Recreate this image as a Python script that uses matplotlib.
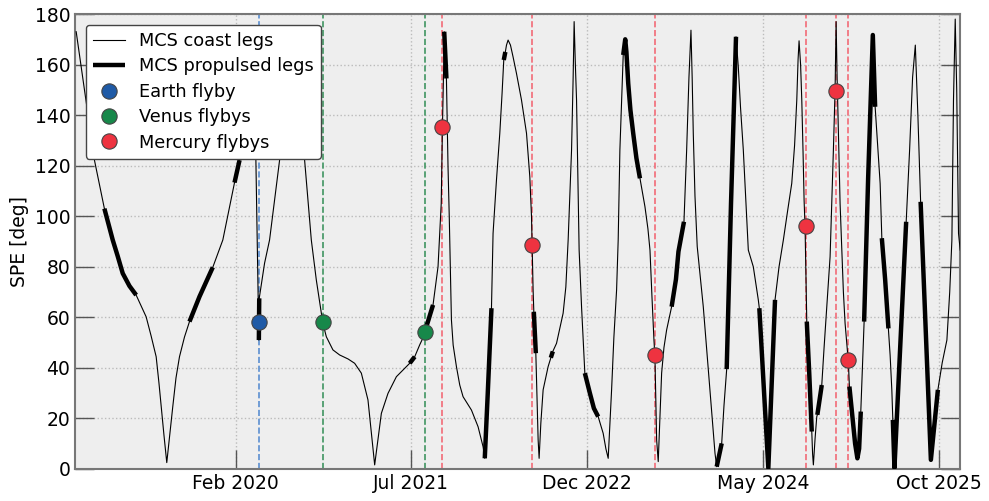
import numpy as np
import pandas as pd
import matplotlib
matplotlib.use("Agg")
import matplotlib.pyplot as plt
import matplotlib.dates as mdates

# mission days since launch and Sun-Probe-Earth angle [deg]
LAUNCH = pd.Timestamp("2018-10-20")

days = [0, 54, 83, 107.5, 121.9, 136.9, 156.7, 176.4, 205.8, 220.5, 235.3, 243.5,
        250.0, 258.2, 266.5, 284.2, 293.6, 303.9, 318.6, 333.3, 362.8, 401.9,
        431.4, 448.2, 465.8, 480.6, 497, 513, 527.7, 537.4,
        538.5, 554.2, 568.9, 598.4, 615, 630.7, 650, 672, 691.7, 706.4, 725.8,
        735.9, 755.3, 775.0, 800, 819.2, 838.9, 858.4, 868.4, 878.1, 887.8, 897.8,
        917.3, 942.0, 981.1, 995.9, 1010.6, 1025.3, 1030.3, 1049.8, 1064.5, 1073.9,
        1077.4, 1081.2, 1082.7, 1089.2, 1093.9, 1097.5, 1103.9, 1109, 1118.6,
        1128.4, 1138.1, 1162.8, 1182.3, 1197.0, 1202.0, 1210.8, 1221.7, 1226.4,
        1236.4, 1246.2, 1252.9, 1257.9, 1262.5, 1265.9, 1270.6, 1277.6, 1285.3,
        1295.3, 1310, 1324.8, 1334.5, 1339.5, 1341.3,
        1344.2, 1346.3, 1352.2, 1355.7, 1359, 1361.9, 1366.9, 1373.7, 1388.4,
        1396.3, 1402.2, 1413.1, 1432.5, 1440.5, 1447.3, 1457.3, 1462, 1464.9,
        1468.5, 1472, 1475.8, 1479.6, 1486.7, 1496.4, 1511.2, 1523, 1535.6, 1550.3,
        1558.3, 1565.1, 1575.1, 1581.8, 1589.8, 1594.5, 1599.5, 1609.3, 1615.2,
        1618.7, 1624, 1630.5, 1638.7, 1648.1, 1658.5, 1673.2, 1682, 1688, 1693.9,
        1699.7, 1702.6, 1707.6, 1712.3, 1717.3, 1722.3, 1729.1, 1737, 1751.7,
        1764.4, 1771.8, 1788, 1795.9, 1802.7, 1808.6, 1812.1, 1815.4, 1820.4, 1827,
        1844.8, 1864.5, 1879.3, 1884.3, 1899, 1905.7, 1913.7, 1926.4, 1941.1,
        1947.9, 1954.4, 1962.6, 1970.6, 1977.3, 1992, 2006.7, 2009.7, 2036.2,
        2055.9, 2067.7, 2080.4, 2092.8, 2105.1, 2113.4, 2119.9, 2123.7, 2126.6,
        2131.1, 2134.6, 2138.4, 2141.4, 2144.3, 2147.2, 2149.3, 2156.5, 2164,
        2166.4, 2168.7, 2173.7, 2178.7, 2180.4, 2193.4, 2200.2, 2208.2, 2217.9,
        2227.6, 2232.6, 2235.6, 2238.5, 2242.3, 2247.3, 2252.3, 2257, 2262, 2271.7,
        2274.7, 2291.5, 2298.2, 2303.3, 2308.2, 2318, 2329.8, 2343.6, 2350.4,
        2357.8, 2365.1, 2370.1, 2379.8, 2389.5, 2394.5, 2399.5, 2402.5, 2407.2,
        2441.7, 2451.8, 2460.6, 2468.6, 2476.3, 2484.2, 2514.4, 2535, 2547.7,
        2561.5, 2569.8, 2576.2, 2580.9, 2586, 2590.4, 2595.7, 2600.7]

spe = [173, 122, 103, 90.6, 84.3, 77.4, 72.4, 68.8, 60.2, 52.6, 44.4, 34,
       24.7, 13.4, 2.5, 24.7, 36, 44.4, 52.2, 58.3, 68.2, 79.8,
       90.6, 101.7, 113.3, 122.2, 145, 172, 130, 51,
       67.5, 81.4, 90.6, 122.2, 150, 170, 150, 122.2, 90.6, 74.8, 57.6,
       52.3, 47.1, 45.1, 43.5, 41.8, 37.9, 27.3, 14.1, 1.6, 11.5, 22.0,
       29.9, 36.5, 41.8, 44.4, 49.1, 53.3, 56.3, 64.9, 80, 105,
       134.8, 160, 173, 154.5, 119.6, 100, 59, 49, 40.5,
       33.2, 28.6, 23.3, 16.7, 8.8, 4.2, 30, 63.6, 93.2,
       114.3, 132.8, 148.6, 161.8, 165, 167.7, 169.7, 167.7, 163,
       156.5, 146, 132.8, 115.6, 99.8, 88,
       70.8, 62.2, 45.8, 28, 11.5, 4.2, 18, 31.3, 40.5,
       44, 46.5, 49.7, 61.6, 72, 90.6, 126.2, 155, 177,
       160, 146, 115, 86.6, 64.2, 37.9, 30, 24, 20.7, 14.1,
       8, 4.2, 31.3, 52, 70.8, 90.6, 126.2, 163.8, 170,
       165, 152.6, 142, 132.8, 123, 115, 103.8, 95, 86.6, 68,
       51, 44.4, 11.5, 2.9, 20, 37.9, 48, 55, 64.2,
       75, 86, 97.8, 126.2, 155, 173.6, 155, 132.8, 108, 88,
       64.2, 31.3, 6.2, 0.9, 10.1, 25, 39.5, 105, 171,
       159, 143, 126.2, 105, 86.6, 80, 66.9, 63.6, 0.3,
       66.9, 80, 90.6, 102, 113, 128, 146, 162, 169.4,
       160, 146, 125, 106.4, 95.5, 75, 58.3, 38, 14.8,
       6, 1.6, 12, 20.7, 21.4, 33.2, 48, 64.2, 84,
       126.2, 150, 177, 155, 133.3, 105, 86.6, 70, 57.6, 42.2,
       32.6, 10, 4.2, 8, 22.7, 58.3, 115, 171.7, 143.3,
       128, 113, 91.3, 75, 55.6, 45, 31.3, 19.4, 0.3,
       97.8, 126.2, 155, 167.7, 139.4, 105.7, 3.6, 31.3, 42,
       51, 70, 90.6, 146, 178, 150, 93.2, 86.6]

# propulsed arcs (start day, end day)
thrust_arcs = [(83, 176.4), (333.3, 401.9), (465.8, 480.6), (537.4, 538.5),
               (981.1, 995.9), (1030.3, 1049.8), (1082.7, 1089.2), (1202, 1221.7),
               (1257.9, 1262.5), (1346.3, 1352.2), (1396.3, 1402.2), (1496.4, 1535.6),
               (1609.3, 1658.5), (1751.7, 1788), (1884.3, 1899), (1913.7, 1941.1),
               (2009.7, 2055.9), (2149.3, 2164), (2180.4, 2193.4), (2274.7, 2308.2),
               (2318, 2350.4), (2370.1, 2389.5), (2402.5, 2441.7), (2484.2, 2535)]

# flybys
earth_dates = ["2020-04-10"]
earth_spe = [58.1]
venus_dates = ["2020-10-15", "2021-08-10"]
venus_spe = [58.0, 54.0]
mercury_dates = ["2021-10-01", "2022-06-23", "2023-06-19", "2024-09-04",
                 "2024-12-01", "2025-01-08"]
mercury_spe = [135.2, 88.5, 45.0, 96.0, 149.7, 43.0]

tick_dates = ["2020-02-01", "2021-07-01", "2022-12-01", "2024-05-01", "2025-10-01"]

days = np.array(days)
spe = np.array(spe)
t = LAUNCH + pd.to_timedelta(days, unit="D")

fig = plt.figure(figsize=(9.89, 5.01), dpi=100)
ax = fig.add_axes([0.076, 0.064, 0.895, 0.908])
ax.set_facecolor("#eeeeee")

ax.plot(t, spe, color="black", lw=0.8, label="MCS coast legs", zorder=3)
for i, (a, b) in enumerate(thrust_arcs):
    m = (days >= a - 0.05) & (days <= b + 0.05)
    ax.plot(t[m], spe[m], color="black", lw=3.2, solid_capstyle="butt",
            label="MCS propulsed legs" if i == 0 else None, zorder=4)

for d in earth_dates:
    ax.axvline(pd.Timestamp(d), color="#5b8fd0", ls="--", lw=1.2, zorder=2)
for d in venus_dates:
    ax.axvline(pd.Timestamp(d), color="#3f9461", ls="--", lw=1.2, zorder=2)
for d in mercury_dates:
    ax.axvline(pd.Timestamp(d), color="#f26a76", ls="--", lw=1.2, zorder=2)

mk = dict(ls="none", marker="o", ms=11, mec="#444444", mew=0.8, zorder=5)
ax.plot(pd.to_datetime(earth_dates), earth_spe, color="#1f5aa6", label="Earth flyby", **mk)
ax.plot(pd.to_datetime(venus_dates), venus_spe, color="#17884a", label="Venus flybys", **mk)
ax.plot(pd.to_datetime(mercury_dates), mercury_spe, color="#ee3340", label="Mercury flybys", **mk)

ax.set_xlim(LAUNCH - pd.Timedelta(days=3), LAUNCH + pd.Timedelta(days=2601))
ax.set_ylim(0, 180)
ax.set_yticks(range(0, 181, 20))
ax.set_xticks(pd.to_datetime(tick_dates))
ax.xaxis.set_major_formatter(mdates.DateFormatter("%b %Y"))
ax.grid(True, color="#bbbbbb", ls=":", lw=1)
ax.set_axisbelow(True)
ax.tick_params(direction="in", length=14, width=1, color="#555555",
               labelsize=13.5, right=True, top=False)
for s in ax.spines.values():
    s.set_color("#777777")
    s.set_linewidth(1.5)
ax.set_ylabel("SPE [deg]", fontsize=13.5)

leg = ax.legend(loc="upper left", fontsize=12.8, framealpha=1, edgecolor="#444444",
                borderaxespad=0.6, handlelength=1.8, labelspacing=0.42, numpoints=1)
leg.get_frame().set_linewidth(1)
leg.set_zorder(10)

fig.savefig("out.png", dpi=100)
